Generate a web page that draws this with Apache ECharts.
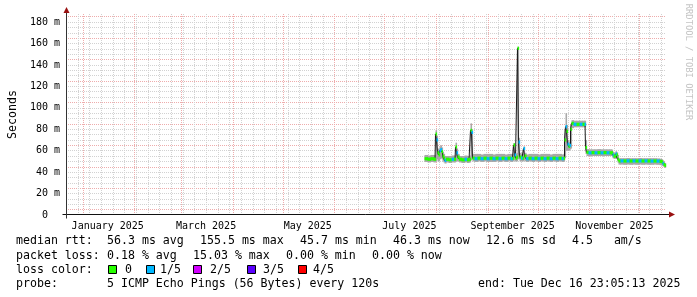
<!DOCTYPE html>
<html><head><meta charset="utf-8">
<script src="https://cdn.jsdelivr.net/npm/echarts@6/dist/echarts.min.js"></script>
<style>html,body{margin:0;padding:0;background:#fff}#c{width:697px;height:297px}</style>
</head><body><div id="c"></div>
<script>
// ---------------- data ----------------
const startTime = '2024-12-21 23:05:13';
const endTime = '2025-12-16 23:05:13';
const yMax = 187.5;
const monthNames = ['January','February','March','April','May','June','July','August','September','October','November','December'];
const labelMonths = [0, 2, 4, 6, 8, 10];

const times = [
 '2025-07-25 23','2025-07-27 18','2025-07-29 13','2025-07-31 09','2025-07-31 23','2025-08-01 13','2025-08-02 04','2025-08-02 18','2025-08-03 09','2025-08-03 23',
 '2025-08-04 13','2025-08-05 04','2025-08-05 18','2025-08-06 09','2025-08-07 13','2025-08-09 09','2025-08-11 04','2025-08-12 09','2025-08-12 23','2025-08-13 13',
 '2025-08-14 04','2025-08-15 09','2025-08-17 04','2025-08-18 23','2025-08-20 04','2025-08-21 09','2025-08-21 23','2025-08-22 13','2025-08-23 04','2025-08-24 23',
 '2025-08-26 18','2025-08-28 13','2025-08-30 09','2025-09-01 04','2025-09-02 23','2025-09-04 18','2025-09-06 13','2025-09-08 09','2025-09-10 04','2025-09-11 23',
 '2025-09-13 18','2025-09-15 13','2025-09-16 04','2025-09-16 18','2025-09-17 09','2025-09-17 23','2025-09-18 13','2025-09-19 04','2025-09-19 18','2025-09-20 09',
 '2025-09-21 13','2025-09-22 04','2025-09-22 18','2025-09-23 09','2025-09-24 13','2025-09-26 09','2025-09-28 04','2025-09-29 23','2025-10-01 18','2025-10-03 13',
 '2025-10-05 09','2025-10-07 04','2025-10-08 23','2025-10-10 18','2025-10-12 13','2025-10-14 09','2025-10-16 04','2025-10-16 18','2025-10-17 09','2025-10-17 23',
 '2025-10-18 13','2025-10-19 04','2025-10-19 18','2025-10-20 09','2025-10-20 23','2025-10-21 13','2025-10-23 09','2025-10-25 04','2025-10-26 23','2025-10-28 18',
 '2025-10-29 09','2025-10-29 23','2025-10-30 13','2025-11-01 09','2025-11-03 04','2025-11-04 23','2025-11-06 18','2025-11-08 13','2025-11-10 09','2025-11-12 04',
 '2025-11-13 23','2025-11-14 13','2025-11-15 04','2025-11-15 18','2025-11-16 09','2025-11-16 23','2025-11-17 13','2025-11-18 04','2025-11-18 18','2025-11-20 13',
 '2025-11-22 09','2025-11-24 04','2025-11-25 23','2025-11-27 18','2025-11-29 13','2025-12-01 09','2025-12-03 04','2025-12-04 23','2025-12-06 18','2025-12-08 13',
 '2025-12-10 09','2025-12-12 04','2025-12-13 23','2025-12-14 13','2025-12-15 04','2025-12-15 18','2025-12-16 09'
];
const median = [
 52.5,52,52.5,52,75.5,70,58,56,60,61,
 59,55,53,51,52,51.5,52,52,63.5,58,
 54,52,51.5,52,51.5,52,79,77,53,52.5,
 53,52.5,53,52.5,53,52.5,53,52.5,53,52.5,
 53,52.5,53,65.3,56,53,54,155.5,68,54,
 53,53,62,55,52.5,53,52.5,53,52.5,53,
 52.5,53,52.5,53,52.5,53,52.5,53,70,82.4,
 78,66,64,65,80,85.5,84.6,84.6,84.6,84.6,
 84.6,63,58.5,58,58.2,58,58.2,58,58.2,58,
 58,58,56,55,55,57,56,52,50.4,50.5,
 50.4,50.5,50.4,50.5,50.4,50.5,50.4,50.5,50.4,50.3,
 50.4,50.3,50,49.5,48,47,46.3
];
const smokeLow = [
 49.5,49,49.5,49,50,52,50,50,52,53,
 52,50,49,48,49,48.5,49,49,50,50,
 50,49,48.5,49,48.5,49,51,52,50,49.5,
 50,49.5,50,49.5,49.5,49.5,50,49.5,50,49.5,
 50,49.5,50,51,50,50,50,52,52,50,
 50,50,51,50,49.5,50,49.5,50,49.5,50,
 49.5,50,49.5,50,49.5,50,49.5,50,53,60,
 60,60,60,61,62,81,81.8,81.8,81.8,81.8,
 81.8,57,55,55,55,55,55,55,55,55,
 55,55,53,52.5,52.5,53,52.5,49,47,47,
 46.8,47,46.8,47,46.8,47,46.8,47,46.8,46.8,
 47,46.8,46.5,46,45.5,45,44
];
const smokeHigh = [
 56,55.5,56,56,79,74,62,60,64,65,
 63,59,57,55,55,55,55.5,55.5,67.5,62,
 57,55,55,55.5,55,55.5,85.5,80,57,57,
 57,56.5,57,57,57,56.5,57,57,57,56.5,
 57,57,57,67,60,57,58,157,72,58,
 57,57,64,58,56.5,57,57,57,56.5,57,
 57,57,56.5,57,57,57,56.5,57,80,95,
 84,70,68,70,84,88.5,88,88,88,88,
 88,70,61.5,61.3,61.3,61.3,61.5,61.3,61.3,61.3,
 61.3,61,59,58,58,59.5,58.5,56,53,53,
 53,53.2,53,53,53,53.2,53,53,53,53,
 53,52.8,52.5,52,51,50,48.5
];
// lost pings (out of 5) per sample
const lossCount = [
 0,0,0,0,0,1,0,0,1,1,
 0,0,0,1,0,0,1,0,0,1,
 0,0,0,1,0,0,0,1,0,1,
 0,1,0,1,0,1,0,1,0,1,
 0,1,0,0,1,0,0,0,1,0,
 1,0,1,0,1,0,1,0,1,0,
 1,0,1,0,1,0,1,0,0,1,
 0,1,0,1,0,0,1,0,1,0,
 1,0,0,1,0,1,0,1,0,1,
 0,0,1,0,0,1,0,0,0,1,
 0,1,0,1,0,1,0,1,0,1,
 0,1,0,0,1,0,0
];
const lossLabels = ['0','1/5','2/5','3/5','4/5'];
const lossColors = ['#26ff00','#00b8ff','#d200ff','#5a00ff','#ff0000'];
const rttLabel = 'median rtt:';
const rttStats = ['56.3 ms avg','155.5 ms max','45.7 ms min','46.3 ms now','12.6 ms sd','4.5   am/s'];
const lossLabel = 'packet loss:';
const lossStats = ['0.18 % avg','15.03 % max','0.00 % min','0.00 % now'];
const colorLabel = 'loss color:';
const probeLabel = 'probe:';
const probeText = '5 ICMP Echo Pings (56 Bytes) every 120s';
const endText = 'end: Tue Dec 16 23:05:13 2025';
const yTitle = 'Seconds';
const watermark = 'RRDTOOL / TOBI OETIKER';

// ---------------- helpers ----------------
function pt(s){
  const p = s.split(' '); const d = p[0].split('-').map(Number);
  const t = (p[1]||'0').split(':').map(Number);
  return new Date(d[0], d[1]-1, d[2], t[0]||0, t[1]||0, t[2]||0).getTime();
}
const T = times.map(pt);
const tMin = pt(startTime), tMax = pt(endTime);
const weekLines = []; { let d = new Date(2024, 11, 22); while (d.getTime() < tMax) { weekLines.push(d.getTime()); d = new Date(d.getFullYear(), d.getMonth(), d.getDate()+7); } }
const monthLines = []; for (let m = 0; m < 12; m++) monthLines.push(new Date(2025, m, 1).getTime());
const labelVals = labelMonths.map(m => new Date(2025, m, 16).getTime());

const GRID_GRAY = '#d2d2d2', GRID_RED = '#eeacac';

function spanX(api, i){
  const x = api.coord([T[i], 0])[0];
  const xp = i > 0 ? api.coord([T[i-1], 0])[0] : null;
  const xn = i < T.length-1 ? api.coord([T[i+1], 0])[0] : null;
  let l = xp === null ? null : (xp + x)/2, r = xn === null ? null : (x + xn)/2;
  if (l === null) l = x - (r - x); if (r === null) r = x + (x - l);
  return [l, r];
}
function smokeRender(params, api){
  const i = params.dataIndex; const s = spanX(api, i);
  const yt = api.coord([T[i], api.value(2)])[1], yb = api.coord([T[i], api.value(1)])[1];
  return {type:'rect', shape:{x:s[0], y:yt, width:s[1]-s[0]+0.6, height:yb-yt}, style:{fill:'#a8a8a8'}};
}
function lossRender(params, api){
  const i = params.dataIndex; const s = spanX(api, i);
  const y = api.coord([T[i], api.value(1)])[1];
  return {type:'rect', shape:{x:s[0], y:y-1.6, width:s[1]-s[0]+0.6, height:3.2}, style:{fill:lossColors[api.value(2)]}};
}
function vGrid(color){
  return function(params, api){
    const cs = params.coordSys;
    const x = Math.round(api.coord([api.value(0), 0])[0]) + 0.5;
    return {type:'line', shape:{x1:x, y1:cs.y, x2:x, y2:cs.y + cs.height}, style:{stroke:color, lineWidth:1, lineDash:[1,1]}};
  };
}

const MONO = '"DejaVu Sans Mono", monospace';
const chart = echarts.init(document.getElementById('c'), null, {renderer:'canvas', width:697, height:297});
chart.setOption({
  animation:false,
  backgroundColor:'#ffffff',
  grid:{left:66, right:31, top:14, bottom:82, containLabel:false, outerBoundsMode:'none'},
  xAxis:{
    type:'value', min:tMin, max:tMax, scale:true,
    axisLine:{show:false}, axisTick:{show:false}, splitLine:{show:false},
    axisLabel:{customValues:labelVals, color:'#000', fontFamily:MONO, fontSize:10, margin:6,
      formatter:function(v){ const d = new Date(v); return monthNames[d.getMonth()] + ' ' + d.getFullYear(); }}
  },
  yAxis:{
    type:'value', min:0, max:yMax, interval:5,
    name:yTitle, nameLocation:'middle', nameGap:47, nameRotate:90,
    nameTextStyle:{fontFamily:MONO, fontSize:11.6, color:'#000'},
    axisLine:{show:false}, axisTick:{show:false},
    axisLabel:{color:'#000', fontFamily:MONO, fontSize:10, margin:6, showMaxLabel:false,
      formatter:function(v){ if (v === 0) return '0  '; return (v % 20 === 0) ? (v + ' m') : ''; }},
    splitLine:{show:true, showMinLine:false, showMaxLine:false,
      lineStyle:{color:[GRID_RED, GRID_GRAY, GRID_GRAY, GRID_GRAY], type:[1,1], width:1}}
  },
  series:[
    {type:'custom', renderItem:vGrid(GRID_GRAY), data:weekLines.map(t => [t]), encode:{x:0}, z:1, silent:true},
    {type:'custom', renderItem:vGrid(GRID_RED), data:monthLines.map(t => [t]), encode:{x:0}, z:1, silent:true},
    {type:'custom', renderItem:smokeRender, data:T.map((t,i) => [t, smokeLow[i], smokeHigh[i]]), encode:{x:0, y:[1,2]}, z:2, silent:true},
    {type:'line', data:T.map((t,i) => [t, median[i]]), step:'middle', showSymbol:false, lineStyle:{color:'#1a1a1a', width:1}, z:3, silent:true},
    {type:'custom', renderItem:lossRender, data:T.map((t,i) => [t, median[i], lossCount[i]]), encode:{x:0, y:1}, z:4, silent:true}
  ]
});

// ---------------- decorations: axes, arrows, legend ----------------
const o = chart.convertToPixel({gridIndex:0}, [tMin, 0]);
const e = chart.convertToPixel({gridIndex:0}, [tMax, yMax]);
const g = [];
const ax = Math.round(o[0]) + 0.5, ay = Math.round(o[1]) - 0.5;
g.push({type:'line', z:20, silent:true, shape:{x1:ax-4, y1:ay, x2:e[0]+3, y2:ay}, style:{stroke:'#111', lineWidth:1}});
g.push({type:'line', z:20, silent:true, shape:{x1:ax, y1:ay+4, x2:ax, y2:e[1]-1}, style:{stroke:'#333', lineWidth:1}});
g.push({type:'polygon', z:21, silent:true, shape:{points:[[e[0]+3, ay-3],[e[0]+3, ay+3],[e[0]+9, ay]]}, style:{fill:'#991111'}});
g.push({type:'polygon', z:21, silent:true, shape:{points:[[ax-3, e[1]-1],[ax+3, e[1]-1],[ax, e[1]-7]]}, style:{fill:'#991111'}});

function txt(x, y, s, font, fill){
  g.push({type:'text', x:x, y:y, z:20, silent:true, style:{text:s, font:font || ('11.6px ' + MONO), fill:fill || '#000', align:'left', verticalAlign:'middle'}});
}
const CW = 7, GAP = 16, COL = 107;
const rows = [241, 255.5, 270, 284];
txt(16, rows[0], rttLabel);
{ let x = COL; rttStats.forEach(s => { txt(x, rows[0], s); x += s.length*CW + GAP; }); }
txt(16, rows[1], lossLabel);
{ let x = COL; lossStats.forEach(s => { txt(x, rows[1], s); x += s.length*CW + GAP; }); }
txt(16, rows[2], colorLabel);
{ const bx = [108, 146, 193, 247, 298], tx = [125, 160, 210, 263, 313];
  lossLabels.forEach((s, i) => {
    g.push({type:'rect', z:20, silent:true, shape:{x:bx[i]+0.5, y:Math.round(rows[2])-4.5, width:8, height:8}, style:{fill:lossColors[i], stroke:'#000', lineWidth:1}});
    txt(tx[i], rows[2], s);
  });
}
txt(16, rows[3], probeLabel);
txt(COL, rows[3], probeText);
txt(478, rows[3], endText);
g.push({type:'text', x:688, y:62, rotation:-Math.PI/2, z:20, silent:true,
  style:{text:watermark, font:'8.8px ' + MONO, fill:'#c4c4c4', align:'center', verticalAlign:'middle'}});
chart.setOption({graphic:g});
</script>
</body></html>
